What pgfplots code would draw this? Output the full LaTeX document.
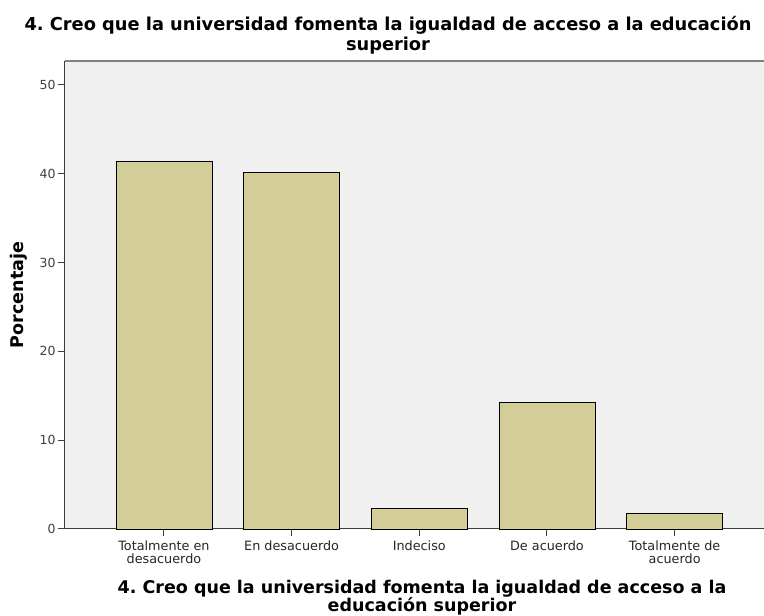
\documentclass[border=0pt]{standalone}
\usepackage{pgfplots}
\pgfplotsset{compat=1.18}
\usepackage{fontspec}
\setmainfont{DejaVu Sans}
\frenchspacing
\definecolor{barfill}{RGB}{211,206,152}
\definecolor{bg}{RGB}{240,240,240}
\definecolor{axc}{RGB}{60,60,60}
\begin{document}
\begin{tikzpicture}[x=1pt,y=1pt]
\useasboundingbox (0,0) rectangle (764,616);
\begin{axis}[at={(65pt,87pt)}, anchor=south west, scale only axis,
  width=699pt, height=468pt,
  xmin=-0.775, xmax=4.70, ymin=0, ymax=52.7,
  axis lines*=left,
  axis line style={-, draw=axc, line width=1pt},
  axis background/.style={fill=bg},
  ytick={0,10,20,30,40,50},
  xtick={0,1,2,3,4},
  xticklabels={{Totalmente en\\desacuerdo},{En desacuerdo},{Indeciso},{De acuerdo},{Totalmente de\\acuerdo}},
  xticklabel style={align=center, font=\fontsize{12.8}{12.5}\selectfont, text=black!85, yshift=-1.5pt},
  yticklabel style={font=\fontsize{12.5}{12}\selectfont, text=black!75, xshift=1pt},
  /pgf/number format/assume math mode=true,
  tick align=outside, major tick length=7pt,
  tick style={axc, line width=1pt},
  ybar, bar width=96pt,
  clip=false,
]
\addplot[fill=barfill, draw=black, line width=0.8pt] coordinates {(0,41.4) (1,40.2) (2,2.3) (3,14.2) (4,1.8)};
\draw[gray, line width=1.2pt] (rel axis cs:0,1) -- (rel axis cs:1.05,1);
\end{axis}
\node[anchor=base, font=\bfseries\fontsize{17.8}{16}\selectfont] at (388,585) {4. Creo que la universidad fomenta la igualdad de acceso a la educación};
\node[anchor=base, font=\bfseries\fontsize{17.8}{16}\selectfont] at (388,565) {superior};
\node[anchor=base, font=\bfseries\fontsize{17.5}{16}\selectfont] at (422,22) {4. Creo que la universidad fomenta la igualdad de acceso a la};
\node[anchor=base, font=\bfseries\fontsize{17.5}{16}\selectfont] at (422,4) {educación superior};
\node[rotate=90, font=\bfseries\fontsize{17.5}{16}\selectfont] at (19,321) {Porcentaje};
\end{tikzpicture}
\end{document}
